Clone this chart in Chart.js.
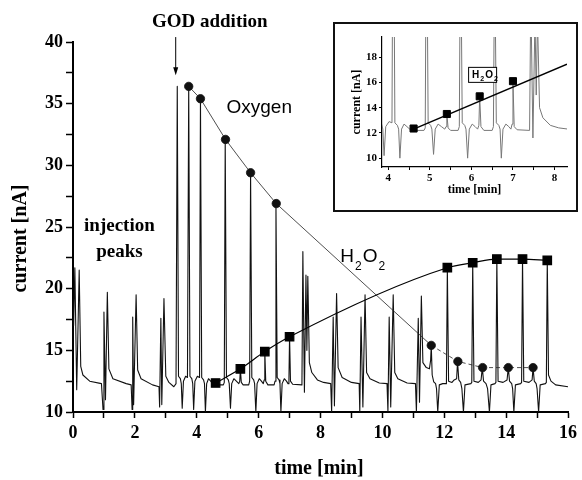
<!DOCTYPE html>
<html lang="en">
<head>
<meta charset="UTF-8" />
<title>GOD addition: oxygen and H2O2 current</title>
<script src="https://cdn.jsdelivr.net/npm/chart.js@4.4.1/dist/chart.umd.min.js"></script>
<style>
  body { margin: 0; background: #fff; }
  .wrap { position: relative; width: 582px; height: 480px; }
  #insetBox {
    position: absolute; left: 333px; top: 22px;
    width: 241px; height: 186px;
    border: 2px solid #111; background: #fff;
  }
  canvas { display: block; }
</style>
</head>
<body>
<div class="wrap">
  <canvas id="mainChart" width="582" height="480"></canvas>
  <div id="insetBox"><canvas id="insetChart" width="241" height="186"></canvas></div>
</div>

<script>
// detector trace (time in min, current in nA)
const traceTime = [
  0.02, 0.06, 0.12, 0.20, 0.25, 0.32, 0.54, 0.92,
  0.97, 1.00, 1.05, 1.11, 1.16, 1.29, 1.72, 1.88,
  1.91, 1.93, 1.96, 2.04, 2.09, 2.20, 2.57, 2.78,
  2.80, 2.84, 2.87, 2.94, 3.00, 3.10, 3.26,
  3.33, 3.37, 3.41, 3.47, 3.50, 3.53, 3.57, 3.64, 3.70,
  3.74, 3.78, 3.84, 3.87, 3.90, 3.94, 4.02, 4.09,
  4.12, 4.16, 4.22, 4.25, 4.28, 4.32, 4.38, 4.45, 4.55, 4.58, 4.61, 4.64, 4.86, 4.89,
  4.92, 4.96, 5.02, 5.05, 5.09, 5.13, 5.20, 5.28, 5.36, 5.39, 5.41, 5.44, 5.50, 5.68, 5.71,
  5.74, 5.78, 5.84, 5.87, 5.91, 5.95, 6.02, 6.09, 6.15, 6.18, 6.20, 6.23, 6.30, 6.50, 6.53,
  6.56, 6.60, 6.66, 6.69, 6.72, 6.76, 6.83, 6.90, 6.95, 6.98, 7.00, 7.03, 7.10,
  7.40, 7.43, 7.48, 7.53, 7.56, 7.59, 7.64, 7.72, 7.90, 8.10, 8.33,
  8.36, 8.41, 8.45, 8.52, 8.57, 8.70, 9.00, 9.25,
  9.27, 9.31, 9.37, 9.44, 9.49, 9.60, 9.90, 10.15,
  10.18, 10.22, 10.27, 10.35, 10.40, 10.50, 10.80, 11.07,
  11.10, 11.16, 11.20, 11.26, 11.31, 11.42, 11.52, 11.56, 11.58, 11.61, 11.66, 11.72, 11.75, 11.79, 11.84, 11.95, 12.07,
  12.10, 12.14, 12.25, 12.32, 12.40, 12.43, 12.47, 12.53, 12.57, 12.62, 12.67, 12.86, 12.89,
  12.92, 12.96, 13.10, 13.19, 13.23, 13.27, 13.35, 13.40, 13.46, 13.51, 13.64, 13.67,
  13.70, 13.74, 13.90, 14.03, 14.07, 14.11, 14.18, 14.21, 14.25, 14.30, 14.47, 14.50,
  14.53, 14.57, 14.74, 14.84, 14.87, 14.91, 14.97, 15.00, 15.05, 15.10, 15.27, 15.30,
  15.33, 15.37, 15.45, 15.60, 16.00
];
const traceCurrent = [
  17.0, 21.7, 11.8, 21.5, 13.7, 13.0, 12.5, 12.3,
  10.2, 18.1, 11.0, 19.7, 13.5, 12.7, 12.3, 12.2,
  10.2, 17.7, 10.6, 19.5, 13.4, 12.7, 12.2, 12.05,
  10.4, 17.6, 10.6, 19.2, 12.9, 12.4, 12.05,
  12.3, 36.4, 12.9, 12.7, 12.3, 10.3, 12.5, 12.9, 12.8,
  36.4, 12.9, 12.7, 12.3, 10.2, 12.5, 12.9, 12.8,
  35.4, 12.8, 12.6, 12.3, 10.0, 12.3, 12.7, 12.5, 12.2, 12.3, 12.4, 12.2, 12.2, 12.4,
  32.1, 12.8, 12.6, 12.3, 10.3, 12.3, 12.7, 12.5, 12.3, 12.5, 13.5, 12.4, 12.2, 12.2, 12.5,
  29.4, 12.8, 12.6, 12.3, 10.0, 12.3, 12.7, 12.5, 12.3, 12.6, 14.9, 12.5, 12.2, 12.2, 12.5,
  26.9, 12.8, 12.6, 12.3, 10.0, 12.3, 12.7, 12.5, 12.3, 12.7, 16.1, 12.5, 12.25,
  12.2, 23.0, 11.6, 21.1, 15.0, 21.0, 14.0, 13.2, 12.6, 12.4, 12.3,
  10.0, 17.7, 10.5, 19.6, 13.6, 12.8, 12.4, 12.3,
  10.0, 17.7, 10.4, 19.5, 13.2, 12.7, 12.35, 12.3,
  10.0, 17.7, 10.4, 19.5, 13.2, 12.7, 12.35, 12.3,
  10.0, 17.6, 10.8, 19.4, 14.0, 13.6, 13.5, 14.2, 15.4, 13.0, 12.45, 12.3, 11.9, 10.0, 12.2, 12.3, 12.3,
  21.7, 12.5, 12.4, 12.6, 12.7, 14.1, 12.6, 12.4, 11.9, 10.0, 12.2, 12.3, 12.4,
  22.1, 12.5, 12.4, 12.6, 13.6, 12.5, 12.3, 11.9, 10.0, 12.2, 12.3, 12.4,
  22.4, 12.5, 12.4, 12.6, 13.6, 12.5, 12.3, 11.9, 10.0, 12.2, 12.3, 12.4,
  22.4, 12.5, 12.4, 12.6, 13.6, 12.5, 12.3, 11.9, 10.0, 12.2, 12.3, 12.4,
  22.3, 13.0, 12.5, 12.2, 12.05
];

// peak heights marked in the figure
const oxygenTime = [3.74, 4.12, 4.93, 5.74, 6.57, 11.58, 12.44, 13.24, 14.07, 14.87];
const oxygenCurrent = [36.4, 35.4, 32.1, 29.4, 26.9, 15.4, 14.1, 13.6, 13.6, 13.6];
const h2o2Time = [4.61, 5.41, 6.20, 7.00, 12.10, 12.92, 13.70, 14.53, 15.33];
const h2o2Current = [12.35, 13.5, 14.9, 16.1, 21.7, 22.1, 22.4, 22.4, 22.3];

// straight line through the first H2O2 peaks in the inset
const insetFitTime = [4.61, 8.3];
const insetFitCurrent = [12.3, 17.45];

// ticks and labels
const mainTimeTicks = [0, 1, 2, 3, 4, 5, 6, 7, 8, 9, 10, 11, 12, 13, 14, 15, 16];
const mainTimeLabels = [0, 2, 4, 6, 8, 10, 12, 14, 16];
const mainCurrentTicks = [10, 12.5, 15, 17.5, 20, 22.5, 25, 27.5, 30, 32.5, 35, 37.5, 40];
const mainCurrentLabels = [10, 15, 20, 25, 30, 35, 40];
const insetTimeTicks = [4, 4.5, 5, 5.5, 6, 6.5, 7, 7.5, 8];
const insetTimeLabels = [4, 5, 6, 7, 8];
const insetCurrentTicks = [10, 12, 14, 16, 18];
const insetCurrentLabels = [10, 12, 14, 16, 18];

const SERIF = '"Liberation Serif", "Times New Roman", serif';
const SANS = '"Liberation Sans", Arial, sans-serif';

function pts(xs, ys) {
  return xs.map((t, i) => ({ x: t, y: ys[i] }));
}

function axis(min, max, tickList, labelList, fontSize, opts) {
  return {
    type: 'linear',
    min: min,
    max: max,
    afterBuildTicks: s => { s.ticks = tickList.map(v => ({ value: v })); },
    afterFit: opts.fit,
    grid: { drawOnChartArea: false, tickLength: opts.tickLength, tickWidth: opts.tickWidth, tickColor: '#000' },
    border: { color: '#000', width: opts.borderWidth },
    ticks: {
      color: '#000',
      padding: opts.padding,
      autoSkip: false,
      maxRotation: 0,
      font: { family: SERIF, weight: 'bold', size: fontSize },
      callback: v => labelList.includes(v) ? String(v) : ''
    },
    title: opts.title || { display: false }
  };
}

// H2O2 with subscripts
function drawFormula(ctx, left, base, big, small, drop, weight) {
  const parts = [['H', 0], ['2', 1], ['O', 0], ['2', 1]];
  let cx = left;
  ctx.textAlign = 'left';
  ctx.textBaseline = 'alphabetic';
  parts.forEach(([txt, sub]) => {
    ctx.font = `${weight} ${sub ? small : big}px ${SANS}`;
    ctx.fillText(txt, cx, sub ? base + drop : base);
    cx += ctx.measureText(txt).width + 1;
  });
  return cx - left;
}

const mainText = {
  id: 'mainText',
  afterDraw(chart) {
    const { ctx, scales: { x, y } } = chart;
    ctx.save();
    ctx.fillStyle = '#000';
    ctx.strokeStyle = '#000';
    ctx.textAlign = 'center';
    ctx.textBaseline = 'middle';

    ctx.font = `bold 19px ${SERIF}`;
    ctx.fillText('injection', x.getPixelForValue(1.5), y.getPixelForValue(25.1));
    ctx.fillText('peaks', x.getPixelForValue(1.5), y.getPixelForValue(23.0));
    ctx.fillText('GOD addition', x.getPixelForValue(4.42), y.getPixelForValue(41.6));

    // arrow to the enzyme addition
    const ax = x.getPixelForValue(3.32);
    const top = y.getPixelForValue(40.4), tip = y.getPixelForValue(37.3);
    ctx.lineWidth = 1;
    ctx.beginPath(); ctx.moveTo(ax, top); ctx.lineTo(ax, tip - 6); ctx.stroke();
    ctx.beginPath(); ctx.moveTo(ax - 2.5, tip - 8); ctx.lineTo(ax + 2.5, tip - 8); ctx.lineTo(ax, tip); ctx.closePath(); ctx.fill();

    // axis titles
    ctx.font = `bold 20px ${SERIF}`;
    ctx.fillText('time [min]', x.getPixelForValue(7.95), x.bottom - 11);
    ctx.save();
    ctx.translate(y.left + 20.5, y.getPixelForValue(24.07));
    ctx.rotate(-Math.PI / 2);
    ctx.fillText('current [nA]', 0, 0);
    ctx.restore();

    ctx.font = `19px ${SANS}`;
    ctx.fillText('Oxygen', x.getPixelForValue(6.02), y.getPixelForValue(34.65));

    drawFormula(ctx, x.getPixelForValue(8.64), y.getPixelForValue(22.17), 19, 12, 8, 'normal');
    ctx.restore();
  }
};

const insetText = {
  id: 'insetText',
  afterDraw(chart) {
    const { ctx, scales: { x, y } } = chart;
    ctx.save();
    const cx = x.getPixelForValue(6.27), cy = y.getPixelForValue(16.6);
    const w = 28, h = 15;
    ctx.fillStyle = '#fff';
    ctx.fillRect(cx - w / 2, cy - h / 2, w, h);
    ctx.strokeStyle = '#000';
    ctx.lineWidth = 1;
    ctx.strokeRect(cx - w / 2, cy - h / 2, w, h);
    ctx.fillStyle = '#000';
    drawFormula(ctx, cx - 10.5, cy + 3.5, 10, 7, 3, 'bold');
    ctx.restore();
  }
};

new Chart(document.getElementById('mainChart'), {
  type: 'line',
  data: {
    datasets: [
      {
        label: 'H2O2',
        data: pts(h2o2Time, h2o2Current),
        borderColor: '#000',
        borderWidth: 1.2,
        cubicInterpolationMode: 'monotone',
        pointStyle: 'rect',
        pointRadius: 6,
        pointBackgroundColor: '#000',
        pointBorderColor: '#000',
        order: 0
      },
      {
        label: 'Oxygen',
        data: pts(oxygenTime, oxygenCurrent),
        borderColor: '#222',
        borderWidth: 0.8,
        tension: 0,
        pointStyle: 'circle',
        pointRadius: 4.2,
        pointBackgroundColor: '#111',
        pointBorderColor: '#111',
        segment: { borderDash: c => c.p0.parsed.x >= 11.5 ? [4, 3] : undefined },
        order: 1
      },
      {
        label: 'trace',
        data: pts(traceTime, traceCurrent),
        borderColor: '#111',
        borderWidth: 1.1,
        borderJoinStyle: 'round',
        tension: 0,
        pointRadius: 0,
        order: 2
      }
    ]
  },
  options: {
    responsive: false,
    animation: false,
    layout: { padding: { left: 0, right: 9, top: 42, bottom: 0 } },
    plugins: { legend: { display: false }, tooltip: { enabled: false } },
    scales: {
      x: axis(0, 16, mainTimeTicks, mainTimeLabels, 18,
        { fit: s => { s.height = 68; }, tickLength: 6, tickWidth: 1.5, borderWidth: 2, padding: 5 }),
      y: axis(10, 40, mainCurrentTicks, mainCurrentLabels, 18,
        { fit: s => { s.width = 73; }, tickLength: 7, tickWidth: 1.5, borderWidth: 2, padding: 3 })
    }
  },
  plugins: [mainText]
});

new Chart(document.getElementById('insetChart'), {
  type: 'line',
  data: {
    datasets: [
      {
        label: 'H2O2',
        data: pts(h2o2Time, h2o2Current).filter(p => p.x < 8.3),
        showLine: false,
        pointStyle: 'rect',
        pointRadius: 5,
        pointBackgroundColor: '#000',
        pointBorderColor: '#000',
        order: 0
      },
      {
        label: 'fit',
        data: pts(insetFitTime, insetFitCurrent),
        borderColor: '#000',
        borderWidth: 1.5,
        pointRadius: 0,
        order: 1
      },
      {
        label: 'trace',
        data: pts(traceTime, traceCurrent),
        borderColor: '#777',
        borderWidth: 1,
        borderJoinStyle: 'round',
        pointRadius: 0,
        order: 2
      }
    ]
  },
  options: {
    responsive: false,
    animation: false,
    layout: { padding: { left: 0, right: 9, top: 13, bottom: 0 } },
    plugins: { legend: { display: false }, tooltip: { enabled: false } },
    scales: {
      x: axis(3.85, 8.3, insetTimeTicks, insetTimeLabels, 11,
        { fit: s => { s.height = 43; }, tickLength: 3, tickWidth: 1, borderWidth: 1.2, padding: 2,
          title: { display: true, text: 'time [min]', color: '#000',
                   font: { family: SERIF, weight: 'bold', size: 12 }, padding: { top: 0, bottom: 13 } } }),
      y: axis(9.3, 19.6, insetCurrentTicks, insetCurrentLabels, 11,
        { fit: s => { s.width = 47; }, tickLength: 3, tickWidth: 1, borderWidth: 1.2, padding: 2,
          title: { display: true, text: 'current [nA]', color: '#000',
                   font: { family: SERIF, weight: 'bold', size: 12 }, padding: { top: 15, bottom: 0 } } })
    }
  },
  plugins: [insetText]
});
</script>
</body>
</html>
